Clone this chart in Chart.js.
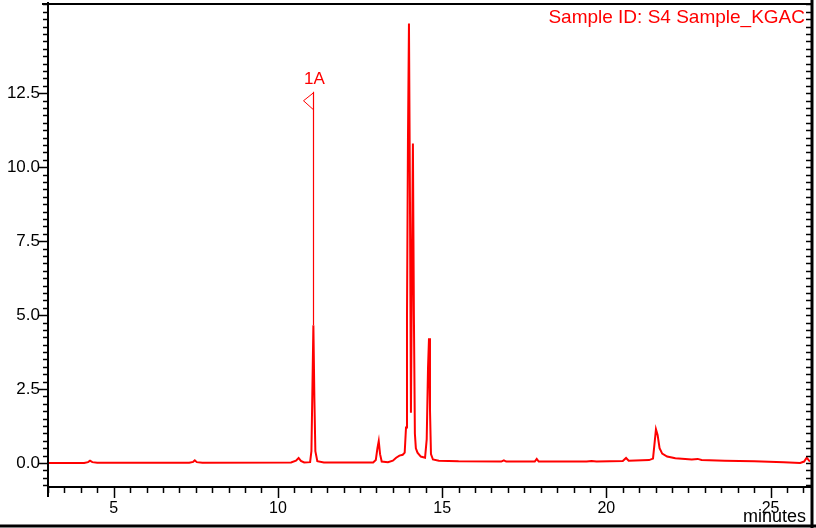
<!DOCTYPE html>
<html><head><meta charset="utf-8">
<script src="https://cdn.jsdelivr.net/npm/chart.js@4/dist/chart.umd.min.js"></script>
<style>html,body{margin:0;padding:0;background:#fff;}#wrap{width:816px;height:528px;position:relative;}</style>
</head><body><div id="wrap"><canvas id="c" width="816" height="528"></canvas></div>
<script>
// ---- data (minutes, signal) ----
const times = [3.00,4.10,4.22,4.28,4.35,4.50,7.30,7.42,7.47,7.53,7.70,10.40,10.55,10.63,10.70,10.80,10.98,11.02,11.05,11.08,11.11,11.14,11.20,11.40,12.90,12.98,13.03,13.07,13.11,13.16,13.35,13.50,13.60,13.70,13.80,13.86,13.90,13.93,13.96,13.99,14.02,14.05,14.08,14.11,14.14,14.17,14.20,14.25,14.35,14.48,14.53,14.57,14.60,14.63,14.66,14.72,14.90,15.50,16.80,16.88,16.95,17.82,17.88,17.94,19.40,19.55,19.70,20.50,20.60,20.68,21.30,21.42,21.47,21.51,21.56,21.62,21.70,21.85,22.10,22.60,22.78,22.90,23.60,24.50,25.40,25.90,26.02,26.10,26.16,26.20];
const signal = [0.00,0.00,0.03,0.08,0.03,0.01,0.01,0.04,0.09,0.03,0.01,0.02,0.08,0.17,0.07,0.02,0.03,0.40,2.50,4.66,2.20,0.40,0.06,0.02,0.02,0.10,0.50,0.74,0.30,0.05,0.03,0.08,0.18,0.25,0.28,0.35,1.20,5.00,11.00,14.86,9.00,1.70,6.50,10.80,5.00,1.00,0.50,0.35,0.22,0.18,0.80,3.20,4.22,1.80,0.30,0.12,0.08,0.06,0.05,0.09,0.05,0.05,0.14,0.05,0.05,0.07,0.05,0.07,0.17,0.08,0.10,0.15,0.70,1.14,0.95,0.50,0.32,0.22,0.16,0.12,0.14,0.10,0.08,0.06,0.03,0.00,0.05,0.18,0.10,0.05];

const xMajorTicks = [5, 10, 15, 20, 25];
const xTickLabels = ['5', '10', '15', '20', '25'];
const yMajorTicks = [0, 2.5, 5, 7.5, 10, 12.5];
const yTickLabels = ['0.0', '2.5', '5.0', '7.5', '10.0', '12.5'];
const xMinorStep = 0.5;
const yMinorStep = 0.25;

const peakNames = ['1A'];
const peakTimes = [11.07];
const peakHeights = [4.66];
const peakMarkerTop = [12.55];

const sampleTitle = 'Sample ID: S4 Sample_KGAC';
const xAxisTitle = 'minutes';

const RED = '#ff0000';
const FONT = '"Liberation Sans", Arial, sans-serif';

const decor = {
  id: 'decor',
  afterDraw(chart) {
    const ctx = chart.ctx;
    const xs = chart.scales.x, ys = chart.scales.y;
    const a = chart.chartArea;
    ctx.save();
    ctx.strokeStyle = '#000';
    ctx.lineWidth = 1.5;
    // x ticks
    for (let t = Math.ceil(xs.min / xMinorStep) * xMinorStep; t <= xs.max + 1e-9; t += xMinorStep) {
      const px = Math.round(xs.getPixelForValue(t)) + 0.5;
      const major = xMajorTicks.some(v => Math.abs(v - t) < 1e-6);
      ctx.beginPath(); ctx.moveTo(px, a.bottom); ctx.lineTo(px, a.bottom + (major ? 11 : 6)); ctx.stroke();
    }
    // y ticks left and right
    for (let v = Math.ceil(ys.min / yMinorStep) * yMinorStep; v <= ys.max + 1e-9; v += yMinorStep) {
      const py = Math.round(ys.getPixelForValue(v)) + 0.5;
      const major = yMajorTicks.some(m => Math.abs(m - v) < 1e-6);
      ctx.beginPath(); ctx.moveTo(a.left, py); ctx.lineTo(a.left - (major ? 9 : 5), py); ctx.stroke();
      ctx.beginPath(); ctx.moveTo(a.right + 1, py); ctx.lineTo(a.right - 4, py); ctx.stroke();
    }
    // left axis extension below x axis
    ctx.lineWidth = 2;
    ctx.beginPath(); ctx.moveTo(a.left, a.top); ctx.lineTo(a.left, a.bottom + 10); ctx.stroke();
    // frame: top, right, bottom
    ctx.lineWidth = 2;
    ctx.beginPath(); ctx.moveTo(a.left - 6, a.top + 1); ctx.lineTo(a.right + 2, a.top + 1); ctx.stroke();
    ctx.lineWidth = 3;
    ctx.beginPath(); ctx.moveTo(a.right + 2, 0); ctx.lineTo(a.right + 2, 528); ctx.stroke();
    ctx.beginPath(); ctx.moveTo(0, 526); ctx.lineTo(816, 526); ctx.stroke();

    // x axis title
    ctx.fillStyle = '#000';
    ctx.font = '18px ' + FONT;
    ctx.textAlign = 'right'; ctx.textBaseline = 'middle';
    ctx.fillText(xAxisTitle, a.right - 4, 517);

    // sample title
    ctx.fillStyle = RED;
    ctx.font = '19px ' + FONT;
    ctx.textAlign = 'right';
    ctx.fillText(sampleTitle, a.right - 5, 18);

    // peak annotations
    ctx.strokeStyle = RED; ctx.lineWidth = 1.2;
    peakNames.forEach((name, i) => {
      const px = Math.round(xs.getPixelForValue(peakTimes[i])) + 0.5;
      const topY = ys.getPixelForValue(peakMarkerTop[i]);
      const botY = ys.getPixelForValue(peakHeights[i]);
      ctx.beginPath(); ctx.moveTo(px, topY); ctx.lineTo(px, botY); ctx.stroke();
      ctx.lineWidth = 1;
      ctx.beginPath();
      ctx.moveTo(px, topY + 1);
      ctx.lineTo(px - 10, topY + 9);
      ctx.lineTo(px, topY + 18);
      ctx.stroke();
      ctx.fillStyle = RED;
      ctx.font = '17px ' + FONT;
      ctx.textAlign = 'center'; ctx.textBaseline = 'middle';
      ctx.fillText(name, px + 1, topY - 12);
    });
    ctx.restore();
  }
};

new Chart(document.getElementById('c'), {
  type: 'line',
  data: {
    datasets: [{
      data: times.map((t, i) => ({ x: t, y: signal[i] })),
      borderColor: RED,
      borderWidth: 2,
      pointRadius: 0,
      tension: 0,
      fill: false
    }]
  },
  options: {
    responsive: false,
    animation: false,
    devicePixelRatio: 1,
    parsing: false,
    layout: { padding: { top: 3, right: 6, left: 0, bottom: 0 } },
    plugins: { legend: { display: false }, tooltip: { enabled: false } },
    scales: {
      x: {
        type: 'linear', min: 3, max: 26.2,
        afterFit(s) { s.height = 41; s.paddingLeft = 0; s.paddingRight = 0; },
        afterBuildTicks(s) { s.ticks = xMajorTicks.map(v => ({ value: v })); },
        grid: { display: false, drawTicks: false },
        border: { display: true, color: '#000', width: 2 },
        ticks: {
          autoSkip: false, maxRotation: 0, padding: 12, color: '#000',
          font: { family: FONT, size: 16 },
          callback: v => xTickLabels[xMajorTicks.indexOf(v)]
        }
      },
      y: {
        type: 'linear', min: -0.81, max: 15.55,
        afterFit(s) { s.width = 48; s.paddingTop = 0; s.paddingBottom = 0; },
        afterBuildTicks(s) { s.ticks = yMajorTicks.map(v => ({ value: v })); },
        grid: { display: false, drawTicks: false },
        border: { display: true, color: '#000', width: 2 },
        ticks: {
          autoSkip: false, padding: 8, color: '#000',
          font: { family: FONT, size: 17 },
          callback: v => yTickLabels[yMajorTicks.indexOf(v)]
        }
      }
    }
  },
  plugins: [decor]
});
</script></body></html>
